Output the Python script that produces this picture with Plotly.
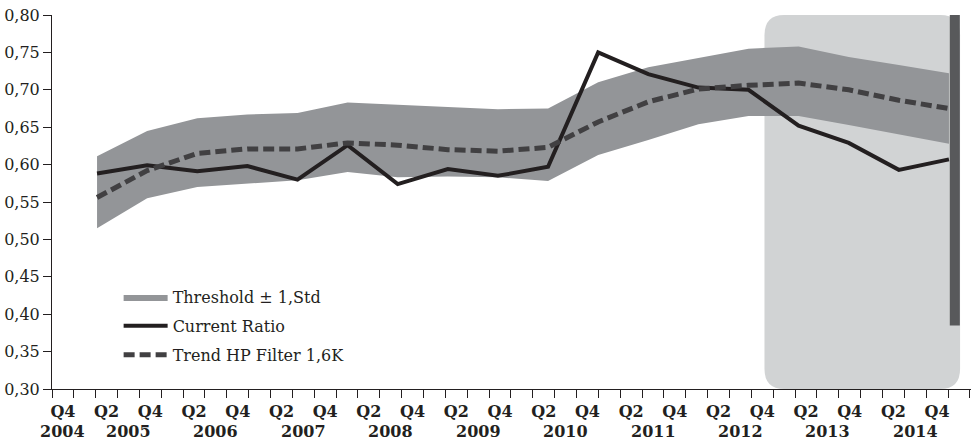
import plotly.graph_objects as go

# Observations (evenly spaced along the period)
obs = list(range(18))

current_ratio = [0.588, 0.599, 0.591, 0.598, 0.580, 0.626, 0.574, 0.594, 0.585,
                 0.597, 0.750, 0.721, 0.703, 0.700, 0.652, 0.629, 0.593, 0.607]
trend_hp = [0.556, 0.592, 0.615, 0.621, 0.621, 0.629, 0.626, 0.620, 0.618,
            0.623, 0.657, 0.684, 0.701, 0.706, 0.709, 0.700, 0.686, 0.675]
band_upper = [0.611, 0.645, 0.662, 0.667, 0.669, 0.683, 0.680, 0.677, 0.674,
              0.675, 0.710, 0.730, 0.742, 0.755, 0.758, 0.744, 0.733, 0.722]
band_lower = [0.515, 0.555, 0.570, 0.575, 0.579, 0.590, 0.583, 0.584, 0.583,
              0.578, 0.613, 0.633, 0.654, 0.665, 0.665, 0.653, 0.641, 0.628]

# Quarterly calendar axis: Q4 2004 ... Q1 2015 (one slot per quarter)
quarters = ["Q4 2004"] + [f"Q{q} {y}" for y in range(2005, 2015) for q in range(1, 5)] + ["Q1 2015"]
quarter_labels = [q.split()[0] for q in quarters]
label_idx = [i for i, q in enumerate(quarter_labels) if q in ("Q2", "Q4") and i < 41]
years = ["2004"] + [str(y) for y in range(2005, 2015)]
year_pos = [0.5] + [4 * (int(y) - 2005) + 3.5 for y in years[1:]]

INK = "#231f20"
FONT = "DejaVu Serif"

fig = go.Figure()

fig.add_trace(go.Scatter(
    x=obs, y=band_lower, xaxis="x2", mode="lines",
    line=dict(width=0, color="#939598"), showlegend=False, hoverinfo="skip",
    legendgroup="band"))
fig.add_trace(go.Scatter(
    x=obs, y=band_upper, xaxis="x2", mode="lines", fill="tonexty",
    fillcolor="#939598", line=dict(width=0, color="#939598"),
    name="Threshold ± 1,Std", legendgroup="band"))
fig.add_trace(go.Scatter(
    x=obs, y=current_ratio, xaxis="x2", mode="lines",
    line=dict(width=4, color=INK), name="Current Ratio", legendgroup="cr"))
fig.add_trace(go.Scatter(
    x=obs, y=trend_hp, xaxis="x2", mode="lines",
    line=dict(width=5, color="#414042", dash="11px,5px"),
    name="Trend HP Filter 1,6K", legendgroup="hp"))

# Highlighted forecast window (rounded rectangle) and marker bar
x0, x1, y0, y1 = 32.6, 41.55, 0.30, 0.80
rx, ry = 0.9, 0.027
path = (f"M{x0 + rx},{y0} L{x1 - rx},{y0} Q{x1},{y0} {x1},{y0 + ry} "
        f"L{x1},{y1 - ry} Q{x1},{y1} {x1 - rx},{y1} L{x0 + rx},{y1} "
        f"Q{x0},{y1} {x0},{y1 - ry} L{x0},{y0 + ry} Q{x0},{y0} {x0 + rx},{y0} Z")
fig.add_shape(type="path", path=path, xref="x", yref="y",
              fillcolor="#d1d3d4", line=dict(width=0), layer="below")
fig.add_shape(type="rect", x0=41.08, x1=41.54, y0=0.385, y1=0.80, xref="x", yref="y",
              fillcolor="#58595b", line=dict(width=0), layer="above")

for y, p in zip(years, year_pos):
    fig.add_annotation(x=p, y=0, xref="x", yref="paper", text=y, showarrow=False,
                       yanchor="middle", yshift=-42,
                       font=dict(family=FONT, size=16, color=INK, weight="bold"))

fig.update_layout(
    width=972, height=444,
    margin=dict(l=52, r=1, t=15, b=55),
    paper_bgcolor="white", plot_bgcolor="white",
    separators=", ",
    font=dict(family=FONT, size=16, color=INK),
    xaxis=dict(
        range=[0, 42.05], showgrid=False, zeroline=False,
        showline=True, linecolor=INK, linewidth=1,
        tickmode="array", tickvals=[i + 0.5 for i in label_idx],
        ticktext=[quarter_labels[i] for i in label_idx],
        ticks="outside", ticklen=8, tickcolor="rgba(0,0,0,0)",
        tickfont=dict(family=FONT, size=16, color=INK, weight="bold"),
        minor=dict(tickmode="array", tickvals=list(range(43)), ticks="outside",
                   ticklen=8, tickwidth=1, tickcolor=INK, showgrid=False),
    ),
    xaxis2=dict(overlaying="x", range=[-0.899, 17.44], visible=False),
    yaxis=dict(
        range=[0.30, 0.80], dtick=0.05, tickformat=".2f", showgrid=False,
        zeroline=False, showline=True, linecolor=INK, linewidth=1,
        ticks="outside", ticklen=8, tickcolor=INK,
        tickfont=dict(family=FONT, size=16, color=INK),
    ),
    legend=dict(x=0.0725, y=0.291, xanchor="left", yanchor="top",
                bgcolor="rgba(0,0,0,0)", itemwidth=44, tracegroupgap=5,
                font=dict(family=FONT, size=16, color=INK)),
    showlegend=True,
)

fig.write_html("out.html")
